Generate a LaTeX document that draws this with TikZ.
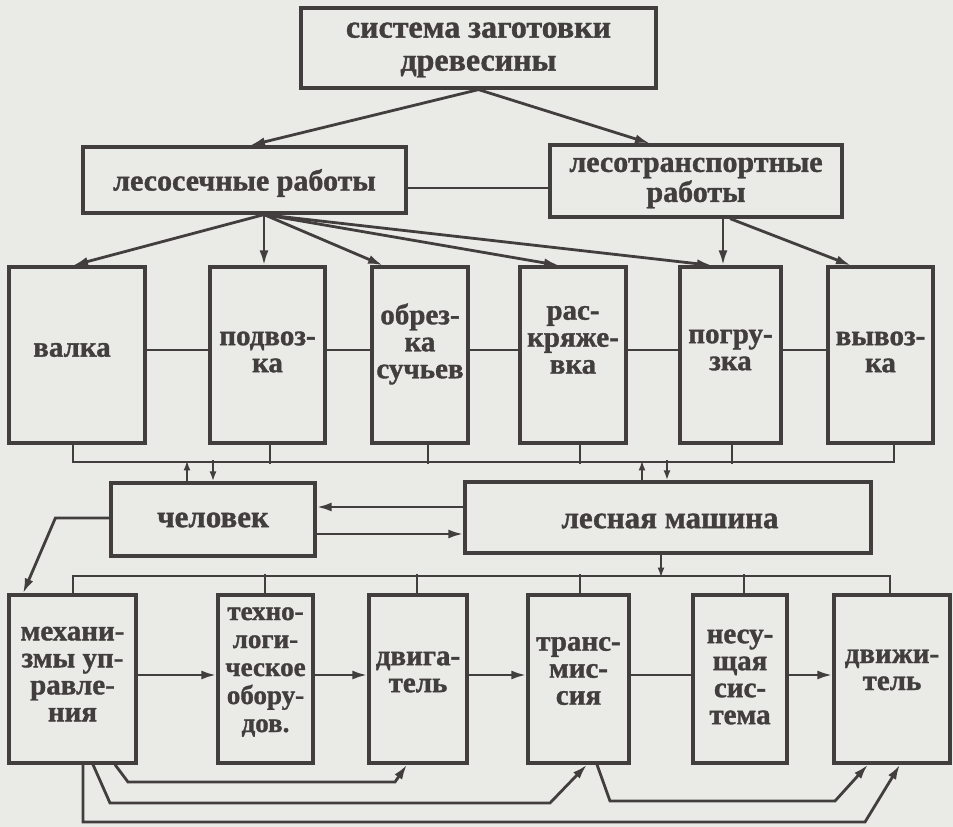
\documentclass[tikz,border=0pt]{standalone}
\usepackage{fontspec}
\setmainfont{Liberation Serif}[BoldFeatures={FakeBold=1.2}]
\usetikzlibrary{arrows.meta}
\definecolor{ink}{RGB}{66,62,62}
\definecolor{paper}{RGB}{234,234,230}
\tikzset{
  box/.style={draw=ink, line width=3.2pt, inner sep=0pt},
  lbl/.style={font=\bfseries\fontsize{29}{27}\selectfont, text=ink, align=center, inner sep=0pt},
  conn/.style={draw=ink, line width=2.8pt},
  arr/.style={conn, -{Latex[length=15pt,width=9pt]}},
  sarr/.style={conn, -{Latex[length=10pt,width=7pt]}},
}
\begin{document}
\begin{tikzpicture}[x=1pt,y=-1pt]
\fill[paper] (0,0) rectangle (953,827);
\useasboundingbox (0,0) rectangle (953,827);
% boxes
\node[box, minimum width=355, minimum height=80] (top) at (478.5,48) {};
\node[box, minimum width=323, minimum height=66] (les1) at (244.5,180) {};
\node[box, minimum width=292, minimum height=72] (les2) at (696,181) {};
\node[box, minimum width=136, minimum height=176] (valka) at (77,355) {};
\node[box, minimum width=115, minimum height=176] (podvoz) at (267.5,355) {};
\node[box, minimum width=96, minimum height=176] (obrez) at (420,355) {};
\node[box, minimum width=106, minimum height=176] (rask) at (573,355) {};
\node[box, minimum width=101, minimum height=176] (pogr) at (730.5,355) {};
\node[box, minimum width=105, minimum height=176] (vyvoz) at (880.5,355) {};
\node[box, minimum width=204, minimum height=73] (chel) at (213,519.5) {};
\node[box, minimum width=406, minimum height=71] (mash) at (668,517.5) {};
\node[box, minimum width=127, minimum height=168] (mech) at (72.5,679) {};
\node[box, minimum width=95, minimum height=168] (tech) at (265.5,679) {};
\node[box, minimum width=98, minimum height=168] (dvig) at (418,679) {};
\node[box, minimum width=101, minimum height=168] (trans) at (578.5,679) {};
\node[box, minimum width=94, minimum height=168] (nesu) at (740,679) {};
\node[box, minimum width=116, minimum height=168] (dvizh) at (892,679) {};
% labels
\node[lbl, font=\bfseries\fontsize{32}{33}\selectfont] (t-top) at (478.5,50) {система заготовки\\древесины};
\node[lbl, font=\bfseries\fontsize{30}{30}\selectfont] (t-les1) at (244.5,183) {лесосечные работы};
\node[lbl, font=\bfseries\fontsize{30}{30}\selectfont] (t-les2) at (696,183) {лесотранспортные\\работы};
\node[lbl] (t-valka) at (72,350) {валка};
\node[lbl] (t-podvoz) at (267.5,352) {подвоз-\\ка};
\node[lbl] (t-obrez) at (420,344) {обрез-\\ка\\сучьев};
\node[lbl] (t-rask) at (573,340) {рас-\\кряже-\\вка};
\node[lbl] (t-pogr) at (730.5,350) {погру-\\зка};
\node[lbl] (t-vyvoz) at (880.5,352) {вывоз-\\ка};
\node[lbl, font=\bfseries\fontsize{31}{31}\selectfont] (t-chel) at (213,520) {человек};
\node[lbl, font=\bfseries\fontsize{31}{31}\selectfont] (t-mash) at (670,521) {лесная машина};
\node[lbl] (t-mech) at (72.5,674) {механи-\\змы уп-\\равле-\\ния};
\node[lbl, font=\bfseries\fontsize{27}{28}\selectfont] (t-tech) at (265.5,672) {техно-\\логи-\\ческое\\обору-\\дов.};
\node[lbl] (t-dvig) at (418,672) {двига-\\тель};
\node[lbl] (t-trans) at (578.5,671) {транс-\\мис-\\сия};
\node[lbl] (t-nesu) at (740,677) {несу-\\щая\\сис-\\тема};
\node[lbl] (t-dvizh) at (892,670) {движи-\\тель};
% level 1
\draw[arr] (top.south) -- ([xshift=5.5]les1.north);
\draw[arr] (top.south) -- ([xshift=-46]les2.north);
\coordinate (h1) at ([yshift=-8]les1.east);
\draw[conn] (h1) -- (h1 -| les2.west);
% fan to row 2
\coordinate (f1) at ([xshift=19.5]les1.south);
\draw[arr] (f1) -- ([xshift=-4]valka.north);
\draw[arr] (f1) -- ([xshift=-3.5]podvoz.north);
\draw[arr] (f1) -- ([xshift=-37]obrez.north);
\draw[arr] (f1) -- ([xshift=-14]rask.north);
\draw[arr] (f1) -- ([xshift=-18.5]pogr.north);
\draw[arr] ([xshift=27]les2.south) -- ([xshift=-7.5]pogr.north);
\draw[arr] ([xshift=34]les2.south) -- ([xshift=-29.5]vyvoz.north);
% row 2 links
\draw[conn] ([yshift=5]valka.east) -- ([yshift=5]podvoz.west);
\draw[conn] ([yshift=5]podvoz.east) -- ([yshift=5]obrez.west);
\draw[conn] ([yshift=5]obrez.east) -- ([yshift=5]rask.west);
\draw[conn] ([yshift=5]rask.east) -- ([yshift=5]pogr.west);
\draw[conn] ([yshift=5]pogr.east) -- ([yshift=5]vyvoz.west);
% bus 1
\coordinate (b1e) at (894,462);
\draw[conn] ([xshift=-4]valka.south) |- (b1e) -- ([xshift=13.5]vyvoz.south);
\draw[conn] ([xshift=2.5]podvoz.south) -- ++(0,19);
\draw[conn] ([xshift=8]obrez.south) -- ++(0,19);
\draw[conn] ([xshift=7]rask.south) -- ++(0,19);
\draw[conn] ([xshift=1.5]pogr.south) -- ++(0,19);
% bus 1 <-> человек / машина
\draw[sarr] ([xshift=-26]chel.north) -- ++(0,-21);
\draw[sarr] ([yshift=21]chel.north) -- (chel.north);
\draw[sarr] ([xshift=-26]mash.north) -- ++(0,-20);
\draw[sarr] ([xshift=-1,yshift=20]mash.north) -- ([xshift=-1]mash.north);
% человек <-> машина
\coordinate (hm1) at ([yshift=12.5]chel.east);
\coordinate (hm2) at ([yshift=-14.5]chel.east);
\draw[arr] (hm1 -| mash.west) -- (hm1);
\draw[arr] (hm2) -- (hm2 -| mash.west);
% человек -> механизмы
\draw[arr] ([yshift=1.5]chel.west) -- ++(-54,0) -- ([xshift=-49.5]mech.north);
% машина -> bus 2
\draw[sarr] ([xshift=-7]mash.south) -- ++(0,23);
\coordinate (b2e) at (890,576);
\draw[conn] ([xshift=0.5]mech.north) |- (b2e) -- ([xshift=-2]dvizh.north);
\draw[conn] ([xshift=-0.5]tech.north) -- ++(0,-19);
\draw[conn] ([xshift=-1]dvig.north) -- ++(0,-19);
\draw[conn] ([xshift=1.5]trans.north) -- ++(0,-19);
\draw[conn] ([xshift=4]nesu.north) -- ++(0,-19);
% row 3 chain
\draw[arr] ([yshift=4]mech.east) -- ([yshift=4]tech.west);
\draw[arr] ([yshift=4]tech.east) -- ([yshift=4]dvig.west);
\draw[arr] ([yshift=4]dvig.east) -- ([yshift=4]trans.west);
\draw[conn] ([yshift=4]trans.east) -- ([yshift=4]nesu.west);
\draw[arr] ([yshift=4]nesu.east) -- ([yshift=4]dvizh.west);
% feedback lines
\draw[arr] ([xshift=42.5]mech.south) -- (128,782) -- (395,782) -- ([xshift=-11]dvig.south);
\draw[arr] ([xshift=20.5]mech.south) -- (110,803) -- (550,803) -- ([xshift=8.5]trans.south);
\draw[arr] ([xshift=18.5]trans.south) -- (610,801) -- (835,801) -- ([xshift=-24]dvizh.south);
\draw[arr] ([xshift=10.5]mech.south) -- (83,822) -- (865,822) -- ([xshift=8]dvizh.south);
\end{tikzpicture}
\end{document}
